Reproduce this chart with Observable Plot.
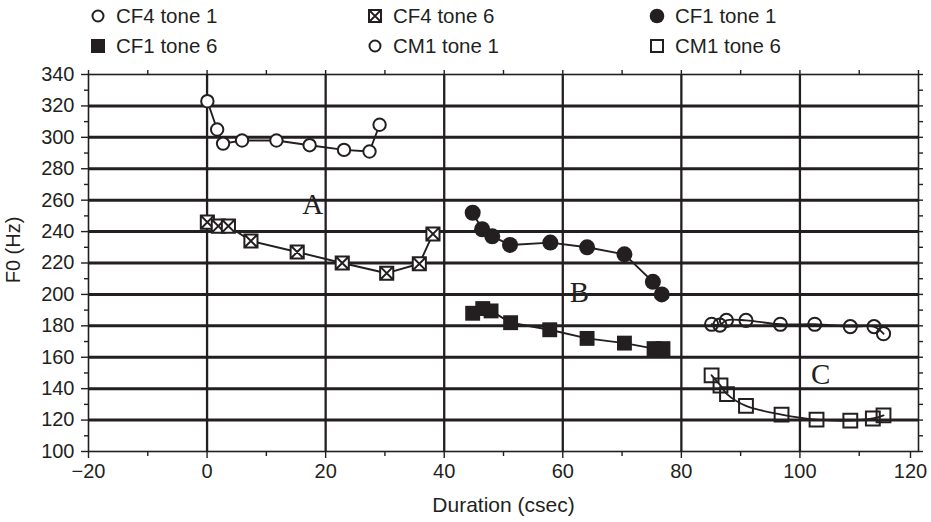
<!DOCTYPE html>
<html>
<head>
<meta charset="utf-8">
<script src="https://cdn.jsdelivr.net/npm/d3@7"></script>
<script src="https://cdn.jsdelivr.net/npm/@observablehq/plot@0.6"></script>
<style>
  html, body { margin: 0; padding: 0; background: #fff; }
  body { width: 931px; height: 522px; overflow: hidden; font-family: "Liberation Sans", Arial, sans-serif; color: #231f20; }
  #legend { position: relative; width: 931px; height: 60px; }
  .item { position: absolute; display: flex; align-items: center; font-size: 20.5px; line-height: 20px; white-space: nowrap; }
  .item svg { display: block; margin-right: 4px; }
</style>
</head>
<body>
<div id="legend"></div>
<div id="chart"></div>
<script>
// ---- Data ----
const seriesNames = ["CF4 tone 1", "CF4 tone 6", "CF1 tone 1", "CF1 tone 6", "CM1 tone 1", "CM1 tone 6"];

const cf4t1X = [0.05, 1.7, 2.7, 5.9, 11.7, 17.3, 23.1, 27.4, 29.1];
const cf4t1Y = [323, 305, 296, 298, 298, 295, 292, 291, 308];

const cf4t6X = [0.05, 1.9, 3.6, 7.4, 15.2, 22.8, 30.3, 35.8, 38.1];
const cf4t6Y = [246, 243.5, 243.5, 234, 227, 220, 213.5, 219.5, 238.5];

const cf1t1X = [44.8, 46.4, 48.1, 51.1, 57.9, 64.1, 70.4, 75.2, 76.7];
const cf1t1Y = [252, 241.5, 237, 231.5, 233, 230, 225.5, 208, 200];

const cf1t6X = [44.8, 46.5, 47.9, 51.2, 57.8, 64.1, 70.4, 75.4, 76.9];
const cf1t6Y = [188, 191, 189.5, 182, 177.5, 172, 169, 165.5, 165.5];

const cm1t1X = [85.1, 86.5, 87.6, 90.9, 96.7, 102.5, 108.5, 112.5, 114.1];
const cm1t1Y = [181, 180.5, 183.5, 183.5, 181, 181, 179.5, 179.5, 175];

const cm1t6X = [85.1, 86.6, 87.7, 90.9, 96.9, 102.8, 108.5, 112.3, 114.1];
const cm1t6Y = [148.5, 142, 136.5, 129, 123.5, 120.3, 119.7, 121, 123];

const xTicks = [-20, 0, 20, 40, 60, 80, 100];
const xTickLast = [120];
const yTicks = [100, 120, 140, 160, 180, 200, 220, 240, 260, 280, 300, 320, 340];
const xGrid = [0, 20, 40, 60, 80, 100];
const yGrid = [120, 140, 160, 180, 200, 220, 240, 260, 280, 300, 320];

const regionLabels = ["A", "B", "C"];
const regionX = [17.8, 62.8, 103.5];
const regionY = [257, 201, 149];

// ---- Build tables ----
const toRows = (xs, ys) => xs.map((x, i) => ({x, y: ys[i]}));
const cf4t1 = toRows(cf4t1X, cf4t1Y);
const cf4t6 = toRows(cf4t6X, cf4t6Y);
const cf1t1 = toRows(cf1t1X, cf1t1Y);
const cf1t6 = toRows(cf1t6X, cf1t6Y);
const cm1t1 = toRows(cm1t1X, cm1t1Y);
const cm1t6 = toRows(cm1t6X, cm1t6Y);
const labels = regionLabels.map((t, i) => ({t, x: regionX[i], y: regionY[i]}));

const ink = "#231f20";

const crossSquare = {
  draw(context, size) {
    const s = Math.sqrt(size) / 2;
    context.moveTo(-s, -s); context.lineTo(s, -s); context.lineTo(s, s); context.lineTo(-s, s); context.closePath();
    context.moveTo(-s, -s); context.lineTo(s, s);
    context.moveTo(s, -s); context.lineTo(-s, s);
  }
};

const minorX = d3.range(-10, 120, 20);
const minorY = d3.range(110, 340, 20);
const allX10 = d3.range(-20, 121, 10);
const allY10 = d3.range(100, 341, 10);

const chart = Plot.plot({
  width: 931,
  height: 462,
  marginLeft: 88,
  marginRight: 13,
  marginTop: 14,
  marginBottom: 71,
  style: {fontFamily: '"Liberation Sans", Arial, sans-serif', fontSize: "20px", color: ink, background: "white"},
  x: {domain: [-20, 120]},
  y: {domain: [100, 340]},
  marks: [
    Plot.ruleY(yGrid, {stroke: ink, strokeWidth: 3}),
    Plot.ruleX(xGrid, {stroke: ink, strokeWidth: 2.3}),
    Plot.frame({stroke: ink, strokeWidth: 1.6}),
    Plot.axisY({ticks: yTicks, tickSize: 7, tickPadding: 7, tickFormat: d => String(d), stroke: ink, strokeWidth: 1.4, label: null}),
    Plot.axisY({ticks: minorY, tickSize: 4, tickFormat: () => "", stroke: ink, strokeWidth: 1.4, label: null}),
    Plot.axisY({anchor: "right", ticks: allY10, tickSize: 4, tickFormat: () => "", stroke: ink, strokeWidth: 1.4, label: null}),
    Plot.axisX({ticks: xTicks, tickSize: 7, tickPadding: 5, stroke: ink, strokeWidth: 1.4, label: null}),
    Plot.axisX({ticks: xTickLast, tickSize: 7, tickPadding: 5, dx: -8, stroke: ink, strokeWidth: 1.4, label: null}),
    Plot.axisX({ticks: minorX, tickSize: 5, tickFormat: () => "", stroke: ink, strokeWidth: 1.4, label: null}),
    Plot.axisX({anchor: "top", ticks: allX10, tickSize: 5, tickFormat: () => "", stroke: ink, strokeWidth: 1.4, label: null}),
    Plot.text(["Duration (csec)"], {frameAnchor: "bottom", dy: 60, fontSize: 21, fill: ink}),
    Plot.text(["F0 (Hz)"], {frameAnchor: "left", dx: -75, dy: -13, rotate: -90, textAnchor: "middle", fontSize: 20, fill: ink}),

    Plot.line(cf4t1, {x: "x", y: "y", stroke: ink, strokeWidth: 1.9}),
    Plot.line(cf4t6, {x: "x", y: "y", stroke: ink, strokeWidth: 1.9}),
    Plot.line(cf1t1, {x: "x", y: "y", stroke: ink, strokeWidth: 1.9}),
    Plot.line(cf1t6, {x: "x", y: "y", stroke: ink, strokeWidth: 1.9}),
    Plot.line(cm1t1, {x: "x", y: "y", stroke: ink, strokeWidth: 1.9, curve: "catmull-rom"}),
    Plot.line(cm1t6, {x: "x", y: "y", stroke: ink, strokeWidth: 1.9, curve: "catmull-rom"}),

    Plot.dot(cf4t1, {x: "x", y: "y", r: 6.2, fill: "white", stroke: ink, strokeWidth: 2}),
    Plot.dot(cf4t6, {x: "x", y: "y", r: 7.4, symbol: crossSquare, fill: "white", stroke: ink, strokeWidth: 2}),
    Plot.dot(cf1t1, {x: "x", y: "y", r: 8, fill: ink, stroke: "none"}),
    Plot.dot(cf1t6, {x: "x", y: "y", r: 8.4, symbol: "square", fill: ink, stroke: "none"}),
    Plot.dot(cm1t1, {x: "x", y: "y", r: 6.6, fill: "white", fillOpacity: 0, stroke: ink, strokeWidth: 2}),
    Plot.dot(cm1t6, {x: "x", y: "y", r: 7.8, symbol: "square", fill: "white", fillOpacity: 0, stroke: ink, strokeWidth: 2}),

    Plot.text(labels, {x: "x", y: "y", text: "t", fontFamily: '"Liberation Serif", "Times New Roman", serif', fontSize: 29, fill: ink})
  ]
});
document.getElementById("chart").appendChild(chart);

// ---- Legend ----
const legendSymbols = [
  `<circle cx="8" cy="8" r="5.5" fill="white" stroke="${ink}" stroke-width="2"/>`,
  `<rect x="2" y="2" width="12" height="12" fill="white" stroke="${ink}" stroke-width="2"/><path d="M2 2L14 14M14 2L2 14" stroke="${ink}" stroke-width="1.8"/>`,
  `<circle cx="8" cy="8" r="7.3" fill="${ink}"/>`,
  `<rect x="1" y="1" width="14" height="14" fill="${ink}"/>`,
  `<circle cx="8" cy="8" r="5.5" fill="white" stroke="${ink}" stroke-width="2"/>`,
  `<rect x="2" y="2" width="12" height="12" fill="white" stroke="${ink}" stroke-width="2"/>`
];
const legendCol = [90, 367, 649];
const legendRow = [16, 46];
const legend = document.getElementById("legend");
seriesNames.forEach((name, i) => {
  const col = i % 3, row = Math.floor(i / 3);
  const div = document.createElement("div");
  div.className = "item";
  div.style.left = legendCol[col] + "px";
  div.style.top = (legendRow[row] - 10) + "px";
  div.innerHTML = `<svg width="16" height="16" viewBox="0 0 16 16">${legendSymbols[i]}</svg><span style="margin-left:6px">${name}</span>`;
  legend.appendChild(div);
});
</script>
</body>
</html>
